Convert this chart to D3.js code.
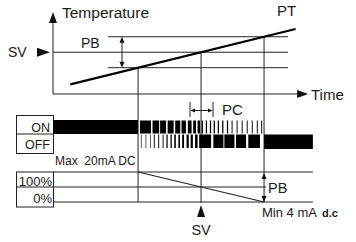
<!DOCTYPE html>
<html>
<head>
<meta charset="utf-8">
<script src="https://cdn.jsdelivr.net/npm/d3@7"></script>
<style>
  body { margin: 0; background: #fff; }
  svg text { font-family: "Liberation Sans", Arial, sans-serif; fill: #1a1a1a; }
</style>
</head>
<body>
<svg id="chart" width="356" height="242"></svg>
<script>
// x is time (arbitrary units), upper panel y is temperature offset from SV
const crossTimes = [27, 47, 67];          // PT meets SV-PB/2, SV, SV+PB/2
const bandLevels = [-5, 0, 5];            // lower PB edge, SV, upper PB edge
const ptLine = [{t: 5.5, temp: -10.4}, {t: 77, temp: 7.5}];

// ON row pulses [start, end]
const onPulses = [[27.6, 31.1], [31.6, 33.7], [34.0, 35.9], [36.4, 38.3], [38.8, 40.4],
                  [40.8, 42.2], [42.8, 44.0], [44.5, 45.4], [45.9, 46.7], [47.2, 47.6],
                  [48.5, 48.9], [49.8, 50.2], [51.0, 51.4], [52.3, 52.7], [53.7, 54.1],
                  [55.2, 55.6], [56.7, 57.0], [58.3, 58.6], [59.9, 60.2], [61.5, 61.8],
                  [63.1, 63.4], [64.7, 65.0], [66.1, 66.4]];
// OFF row pulses [start, end]
const offPulses = [[27.9, 28.1], [29.4, 29.6], [30.8, 31.0], [32.0, 32.3], [33.4, 33.7],
                   [34.8, 35.1], [36.0, 36.4], [37.3, 37.7], [38.5, 39.0], [39.8, 40.3],
                   [41.0, 41.6], [42.4, 43.1], [43.7, 44.4], [45.1, 45.9], [46.4, 50.2],
                   [50.9, 54.1], [54.4, 57.6], [58.1, 61.3], [62.0, 65.7]];

const outLevels = [100, 50, 0];           // output %
const outRamp = [{t: 27, pct: 100}, {t: 67, pct: 0}];
const pcSpan = [43.5, 50.8];

const ink = "#222";
const svg = d3.select("#chart");

// scales
const x = d3.scaleLinear().domain([0, 80]).range([53, 305]);
const yT = d3.scaleLinear().domain([-13.5, 13]).range([94, 12]);
const yOut = d3.scaleLinear().domain([0, 100]).range([202, 172]);

const onTop = 120, onBot = 134, offTop = 134.5, offBot = 149;

function hline(x1, x2, y, w) {
    svg.append("line").attr("x1", x1).attr("x2", x2).attr("y1", y).attr("y2", y)
       .attr("stroke", ink).attr("stroke-width", w || 1);
}
function vline(xp, y1, y2, w) {
    svg.append("line").attr("x1", xp).attr("x2", xp).attr("y1", y1).attr("y2", y2)
       .attr("stroke", ink).attr("stroke-width", w || 1);
}
function tri(pts) {
    svg.append("path").attr("d", "M" + pts.map(p => p.join(",")).join("L") + "Z")
       .attr("fill", "#111");
}
function label(txt, xp, yp, size, anchor, weight) {
    return svg.append("text").attr("x", xp).attr("y", yp)
       .attr("font-size", size).attr("text-anchor", anchor || "start")
       .attr("font-weight", weight || "normal")
       .style("white-space", "pre").text(txt);
}

// ---- upper panel: temperature vs time
const x0 = x(0), yBase = yT(-13.5);
vline(x0, yBase, yT(13) + 8);
tri([[x0, yT(13)], [x0 - 4, yT(13) + 11], [x0 + 4, yT(13) + 11]]);
hline(x0, x(81) - 9, yBase);
tri([[x(81), yBase], [x(81) - 11, yBase - 4], [x(81) - 11, yBase + 4]]);

// PB band and SV lines
bandLevels.forEach(b => {
    hline(b === 0 ? x0 : x(17.5), x(74.6), yT(b));
});

// verticals at the crossing times
crossTimes.forEach((t, i) => {
    vline(x(t), yT(bandLevels[i]), yOut(0) + (i === 1 ? 1 : 0));
});

// PT line
svg.append("path")
   .datum(ptLine)
   .attr("fill", "none")
   .attr("stroke", "#000")
   .attr("stroke-width", 2.2)
   .attr("d", d3.line().x(d => x(d.t)).y(d => yT(d.temp)));

// PB double arrow (upper)
const pbx = x(21.9);
vline(pbx, yT(5) + 2, yT(-5) - 2);
tri([[pbx, yT(5)], [pbx - 2.5, yT(5) + 6], [pbx + 2.5, yT(5) + 6]]);
tri([[pbx, yT(-5)], [pbx - 2.5, yT(-5) - 6], [pbx + 2.5, yT(-5) - 6]]);

// SV marker on the left
tri([[50, yT(0)], [37, yT(0) - 4.5], [37, yT(0) + 4.5]]);

label("Temperature", 62, 18, 15.5);
label("PT", 277, 16, 15);
label("Time", 311, 100, 15);
label("SV", 8, 57, 14);
label("PB", 81, 48, 14);

// ---- ON / OFF panel
svg.append("rect").attr("x", 16.5).attr("y", 115.5).attr("width", 37).attr("height", 38)
   .attr("fill", "none").attr("stroke", ink);
hline(16.5, 53.5, onBot);
label("ON", 50, 132, 12.5, "end");
label("OFF", 50, 149, 12.5, "end");

svg.append("rect").attr("x", x0).attr("y", onTop)
   .attr("width", x(crossTimes[0]) - x0).attr("height", onBot - onTop).attr("fill", "#000");
svg.append("rect").attr("x", x(crossTimes[2])).attr("y", offTop)
   .attr("width", x(82.5) - x(crossTimes[2])).attr("height", offBot - offTop).attr("fill", "#000");

svg.selectAll("rect.on").data(onPulses).join("rect").attr("class", "on")
   .attr("x", d => x(d[0])).attr("y", onTop + 0.5)
   .attr("width", d => x(d[1]) - x(d[0])).attr("height", onBot - onTop - 1)
   .attr("fill", "#000");
svg.selectAll("rect.off").data(offPulses).join("rect").attr("class", "off")
   .attr("x", d => x(d[0])).attr("y", offTop)
   .attr("width", d => x(d[1]) - x(d[0])).attr("height", offBot - offTop - 1)
   .attr("fill", "#000");

// PC span
vline(x(pcSpan[0]), 102, 117);
vline(x(pcSpan[1]), 102, 117);
hline(x(pcSpan[0]) + 4, x(pcSpan[1]) - 4, 110.5);
tri([[x(pcSpan[0]) + 0.5, 110.5], [x(pcSpan[0]) + 5, 108.5], [x(pcSpan[0]) + 5, 112.5]]);
tri([[x(pcSpan[1]) - 0.5, 110.5], [x(pcSpan[1]) - 5, 108.5], [x(pcSpan[1]) - 5, 112.5]]);
label("PC", 222, 115, 15);

label("Max  20mA DC", 55, 165, 12);

// ---- output panel
svg.append("rect").attr("x", 16.5).attr("y", 172).attr("width", 37).attr("height", 35)
   .attr("fill", "none").attr("stroke", ink);
hline(16.5, 53.5, yOut(50));
label("100%", 52, 186, 13, "end");
label("0%", 52, 203, 13, "end");

outLevels.forEach(p => {
    hline(53.5, p === 50 ? x(crossTimes[2]) + 2 : x(82.5), yOut(p));
});

svg.append("path")
   .datum(outRamp)
   .attr("fill", "none")
   .attr("stroke", ink)
   .attr("stroke-width", 1.1)
   .attr("d", d3.line().x(d => x(d.t)).y(d => yOut(d.pct)));

// PB arrow heads on the right vertical
const rx = x(crossTimes[2]);
tri([[rx, yOut(100) + 1], [rx - 2.5, yOut(100) + 7], [rx + 2.5, yOut(100) + 7]]);
tri([[rx, yOut(0)], [rx - 2.5, yOut(0) - 6], [rx + 2.5, yOut(0) - 6]]);
label("PB", 268, 193, 14.5);

// SV marker below
const sx = x(crossTimes[1]);
tri([[sx, 205], [sx - 4, 217], [sx + 4, 217]]);
label("SV", sx, 235, 14.5, "middle");

label("Min 4 mA", 262, 217, 13);
label("d.c", 322, 217, 11, "start", "bold");
</script>
</body>
</html>
